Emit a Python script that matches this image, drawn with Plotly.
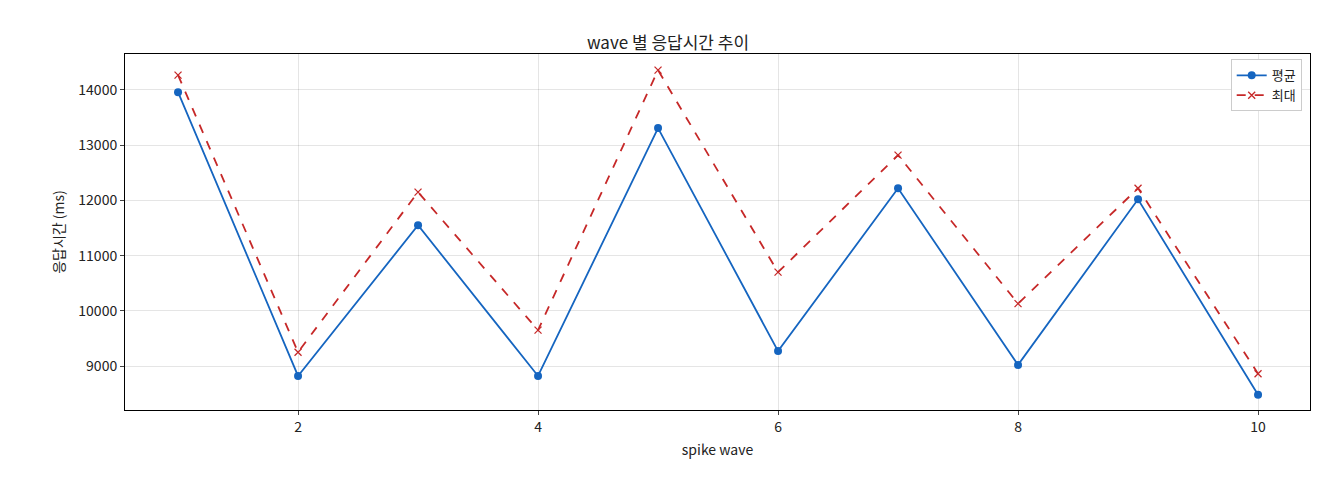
import plotly.graph_objects as go

waves = [1, 2, 3, 4, 5, 6, 7, 8, 9, 10]
avg_ms = [13960, 8820, 11550, 8820, 13310, 9270, 12220, 9020, 12020, 8480]
max_ms = [14270, 9250, 12150, 9650, 14360, 10700, 12820, 10130, 12220, 8860]

fig = go.Figure()
fig.add_trace(go.Scatter(x=waves, y=avg_ms, name="평균", mode="lines+markers",
                         line=dict(color="#1565c0", width=1.8),
                         marker=dict(symbol="circle", size=8, color="#1565c0")))
fig.add_trace(go.Scatter(x=waves, y=max_ms, name="최대", mode="lines+markers",
                         line=dict(color="#c62828", width=1.8, dash="dash"),
                         marker=dict(symbol="x-thin", size=7, line=dict(color="#c62828", width=1.3))))

axis = dict(showline=True, linecolor="black", mirror=True, ticks="outside", ticklen=4,
            showgrid=True, gridcolor="rgba(0,0,0,0.1)", zeroline=False, automargin=False,
            tickfont=dict(size=14, color="#222"))
fig.update_layout(
    width=1320, height=480,
    margin=dict(l=117, r=18, t=46, b=78),
    paper_bgcolor="white", plot_bgcolor="white",
    font=dict(family="Noto Sans CJK KR", color="#222"),
    title=dict(text="wave 별 응답시간 추이", x=0.5, xanchor="center", y=0.94, font=dict(size=17)),
    xaxis=dict(axis, range=[0.558, 10.433], tickvals=[2, 4, 6, 8, 10],
               title=dict(text="spike wave", font=dict(size=14), standoff=10)),
    yaxis=dict(axis, range=[8203, 14652], tickvals=[9000, 10000, 11000, 12000, 13000, 14000],
               tickformat="d", title=dict(text="응답시간 (ms)", font=dict(size=14), standoff=10)),
    legend=dict(x=0.993, y=0.985, xanchor="right", yanchor="top",
                bordercolor="#ccc", borderwidth=1, bgcolor="white", font=dict(size=13)),
)
fig.write_html("out.html")
